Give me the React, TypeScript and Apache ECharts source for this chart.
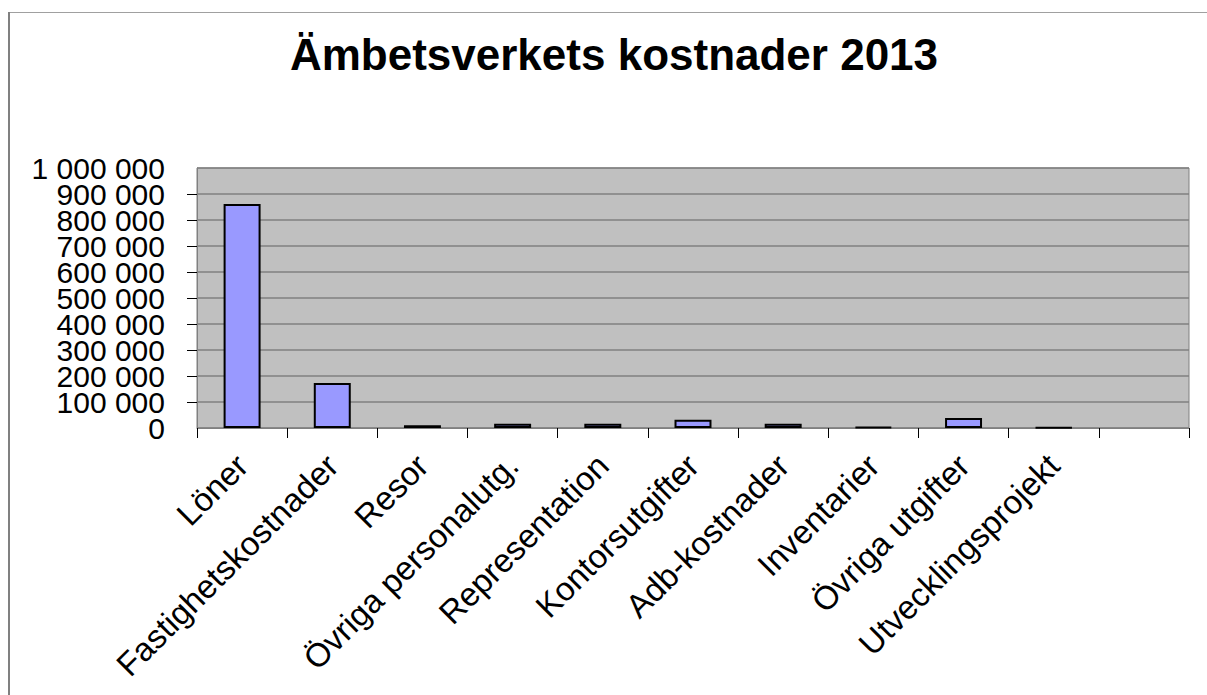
import React, { useEffect, useRef } from "react";
import * as echarts from "echarts";

const TITLE = "Ämbetsverkets kostnader 2013";
const categories = [
  "Löner",
  "Fastighetskostnader",
  "Resor",
  "Övriga personalutg.",
  "Representation",
  "Kontorsutgifter",
  "Adb-kostnader",
  "Inventarier",
  "Övriga utgifter",
  "Utvecklingsprojekt",
  "",
];
const values: (number | null)[] = [862000, 173000, 11000, 16000, 16000, 32000, 16000, 4000, 38000, 2000, null];
const yMin = 0;
const yMax = 1000000;
const yInterval = 100000;

const fmt = (v: number) => String(Math.round(v)).replace(/\B(?=(\d{3})+(?!\d))/g, " ");

export default function App() {
  const ref = useRef<HTMLDivElement>(null);
  useEffect(() => {
    if (!ref.current) return;
    const chart = echarts.init(ref.current, null, { renderer: "svg" });
    const font = "Liberation Sans, Arial, sans-serif";
    const labelStyle = { fontFamily: font, fontSize: 30, color: "#000" };
    chart.setOption({
      animation: false,
      backgroundColor: "#ffffff",
      title: {
        text: TITLE,
        left: 609,
        top: 27,
        textAlign: "center",
        textStyle: { fontFamily: font, fontWeight: "bold", fontSize: 44, color: "#000" },
      },
      graphic: [
        { type: "line", shape: { x1: 8, y1: 12.5, x2: 1207, y2: 12.5 }, style: { stroke: "#a0a0a0", lineWidth: 1 } },
        { type: "line", shape: { x1: 9, y1: 12, x2: 9, y2: 695 }, style: { stroke: "#808080", lineWidth: 2 } },
      ],
      grid: {
        left: 197,
        right: 18,
        top: 168,
        bottom: 267,
        show: true,
        backgroundColor: "#c0c0c0",
        borderColor: "#808080",
        borderWidth: 1,
      },
      xAxis: {
        type: "category",
        data: categories,
        axisLine: { show: true, lineStyle: { color: "#808080", width: 1 } },
        axisTick: { show: true, length: 10, lineStyle: { color: "#000", width: 1 } },
        axisLabel: {
          rotate: 45,
          interval: 0,
          margin: 32,
          fontFamily: font,
          fontSize: 33,
          color: "#000",
        },
        splitLine: { show: false },
      },
      yAxis: [
        {
          type: "value",
          min: yMin,
          max: yMax,
          interval: yInterval,
          axisLine: { show: true, lineStyle: { color: "#808080", width: 1 } },
          axisTick: { show: true, length: 10, lineStyle: { color: "#000", width: 1 } },
          axisLabel: {
            ...labelStyle,
            margin: 32,
            showMinLabel: false,
            showMaxLabel: false,
            formatter: (v: number) => fmt(v),
          },
          splitLine: { show: true, lineStyle: { color: "#808080", width: 1.5 } },
        },
        {
          type: "value",
          position: "left",
          min: yMin,
          max: yMax,
          interval: yInterval,
          axisLine: { show: false },
          axisTick: { show: false },
          splitLine: { show: false },
          axisLabel: {
            ...labelStyle,
            margin: 32,
            customValues: [yMin, yMax],
            formatter: (v: number) => fmt(v),
          },
        },
      ],
      series: [
        {
          type: "bar",
          yAxisIndex: 0,
          data: values,
          barWidth: "41%",
          itemStyle: { color: "#9999ff", borderColor: "#000", borderWidth: 2 },
        },
      ],
    });
    return () => chart.dispose();
  }, []);
  return <div ref={ref} style={{ position: "fixed", left: 0, top: 0, width: 1207, height: 695 }} />;
}
